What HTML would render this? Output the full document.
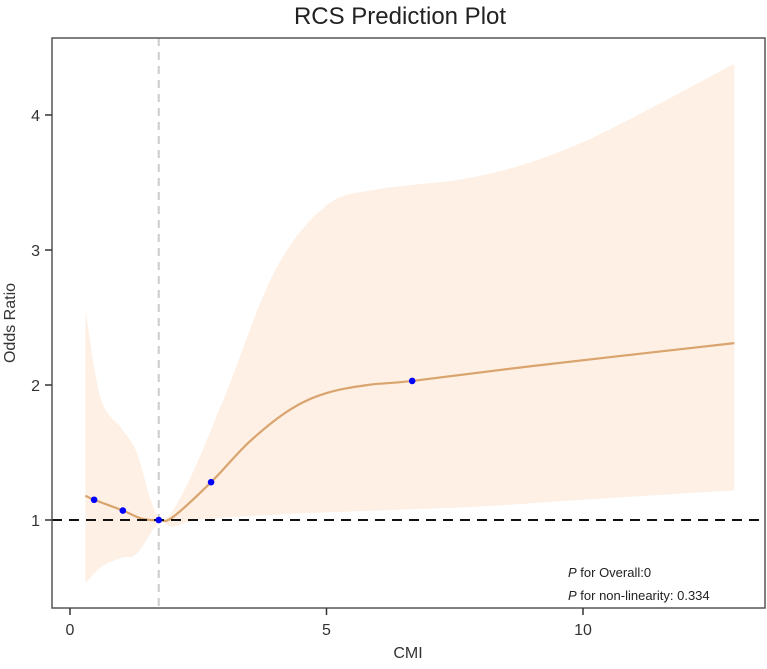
<!DOCTYPE html>
<html><head><meta charset="utf-8"><style>body{margin:0;background:#fff}svg{font-family:"Liberation Sans",Arial,sans-serif}</style></head>
<body>
<svg id="c" width="767" height="664"></svg>
<script>
const xs=[0.3,0.47,1.03,1.4,1.73,2.0,2.75,3.5,4.3,5.0,5.8,6.67,9,12.95];
const ors=[1.18,1.15,1.07,1.01,1.0,1.02,1.28,1.58,1.82,1.94,2.0,2.03,2.14,2.31];
const bx=[0.3,0.6,1.0,1.3,1.73,2.2,3,4,5,6,8,10,12.95];
const upper=[2.55,1.9,1.68,1.5,1.02,1.2,1.9,2.85,3.33,3.45,3.55,3.8,4.38];
const lx=[0.3,0.6,1.0,1.3,1.73,2.0,2.5,4,6,8,10,12.95];
const lower=[0.53,0.65,0.72,0.75,0.98,0.95,1.0,1.04,1.07,1.1,1.15,1.22];
const knotsX=[0.47,1.03,1.73,2.75,6.67];
const knotsY=[1.15,1.07,1.0,1.28,2.03];
const xTicks=[0,5,10], yTicks=[1,2,3,4];
const refX=1.73;
const X=v=>70+v*51.3, Y=v=>520-(v-1)*135;
const NS='http://www.w3.org/2000/svg', s=document.getElementById('c');
function el(t,a,txt){const e=document.createElementNS(NS,t);for(const k in a)e.setAttribute(k,a[k]);if(txt!=null)e.textContent=txt;s.appendChild(e);return e;}
function smooth(px,py){let p=px.map((x,i)=>[X(x),Y(py[i])]);let d='M'+p[0][0]+','+p[0][1];
for(let i=0;i<p.length-1;i++){const p0=p[i-1]||p[i],p1=p[i],p2=p[i+1],p3=p[i+2]||p2;
d+=` C${p1[0]+(p2[0]-p0[0])/6},${p1[1]+(p2[1]-p0[1])/6} ${p2[0]-(p3[0]-p1[0])/6},${p2[1]-(p3[1]-p1[1])/6} ${p2[0]},${p2[1]}`;}return d;}
const up=smooth(bx,upper);
const lo=smooth(lx.slice().reverse(),lower.slice().reverse()).replace('M','L');
let e=el('path',{d:up+lo+'Z',fill:'#fef0e4'});

e=el('line',{x1:X(refX),x2:X(refX),y1:38,y2:608,stroke:'#ccc','stroke-width':2,'stroke-dasharray':'8,6'});

e=el('path',{d:smooth(xs,ors),fill:'none',stroke:'#d9a46e','stroke-width':2.2});

e=el('line',{x1:52,x2:765,y1:Y(1),y2:Y(1),stroke:'#111','stroke-width':2,'stroke-dasharray':'10,7'});

knotsX.forEach((k,i)=>{const c=el('circle',{cx:X(k),cy:Y(knotsY[i]),r:3.3,fill:'#00f'});
});
e=el('rect',{x:52,y:38,width:713,height:570,fill:'none',stroke:'#555','stroke-width':1.5});

xTicks.forEach(t=>{el('line',{x1:X(t),x2:X(t),y1:608,y2:615,stroke:'#333','stroke-width':1.5});
const l=el('text',{x:X(t),y:635,'text-anchor':'middle','font-size':16,fill:'#333'},t);
});
yTicks.forEach(t=>{el('line',{x1:45,x2:52,y1:Y(t),y2:Y(t),stroke:'#333','stroke-width':1.5});
const l=el('text',{x:40,y:Y(t)+6,'text-anchor':'end','font-size':16,fill:'#333'},t);
});
</script>
<svg width="767" height="664" style="position:absolute;left:0;top:0">
<text x="400" y="24" text-anchor="middle" font-size="24" fill="#222">RCS Prediction Plot</text>
<text x="408" y="658" text-anchor="middle" font-size="16" fill="#333">CMI</text>
<text transform="translate(15,323) rotate(-90)" text-anchor="middle" font-size="16" fill="#333">Odds Ratio</text>
<text x="568" y="577" font-size="13" fill="#222"><tspan font-style="italic">P</tspan> for Overall:0</text>
<text x="568" y="600" font-size="13" fill="#222"><tspan font-style="italic">P</tspan> for non-linearity: 0.334</text>
</svg>
</body></html>
